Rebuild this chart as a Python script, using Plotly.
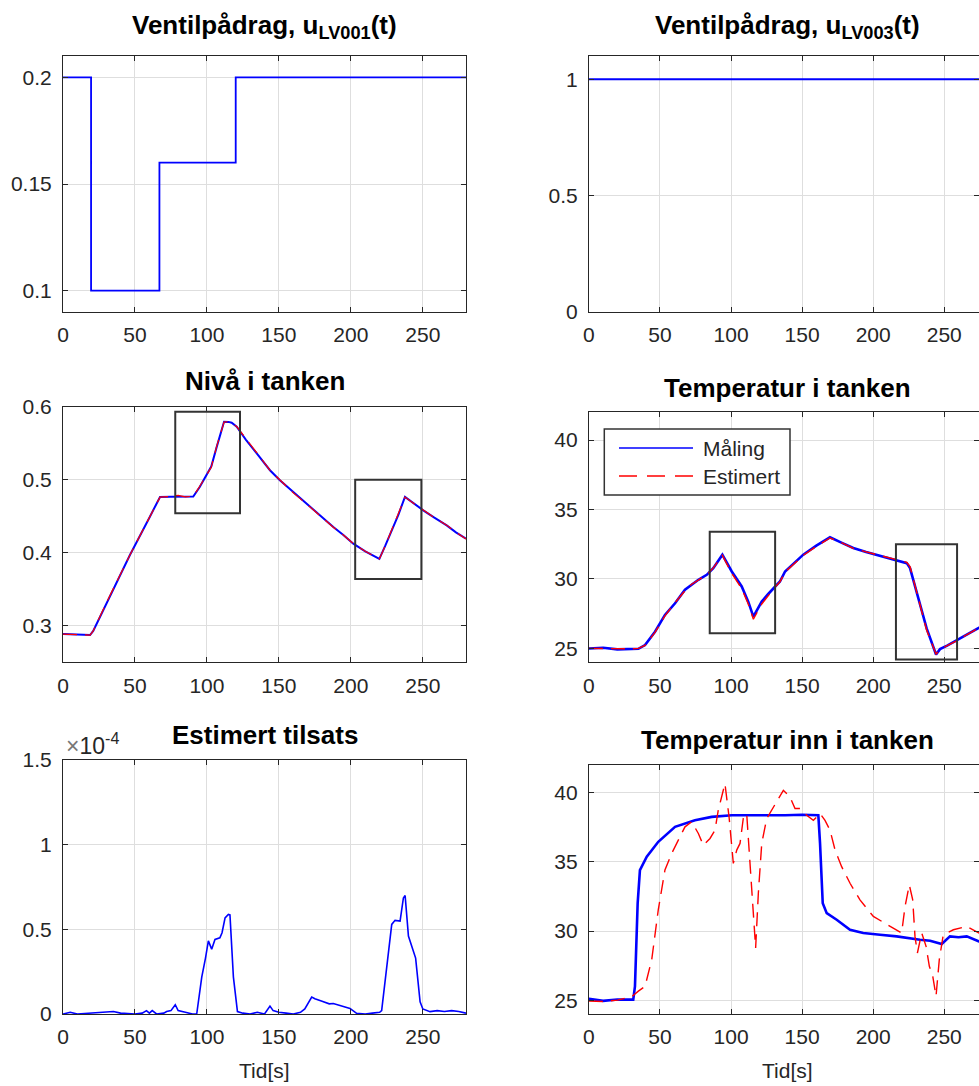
import plotly.graph_objects as go

# ---------------- data ----------------
# Valve input LV001 (step sequence)
t_u1 = [0, 19.5, 67, 120, 280]
u_lv001 = [0.2, 0.1, 0.16, 0.2, 0.2]

# Valve input LV003 (constant)
t_u3 = [0, 280]
u_lv003 = [1, 1]

# Tank level: measurement and estimate
t_lvl = [0, 10, 18.8, 21, 30, 46.5, 60, 67.4, 75, 80, 85, 90.5, 95, 99.8, 103, 106.8,
         110, 111.9, 115, 117.2, 120.7, 127, 134.6, 143.8, 150.7, 160, 171.6, 180,
         187.8, 195, 201.7, 210, 219.8, 224, 228.4, 233, 237.6, 244, 250.3, 258,
         266.6, 273, 280]
lvl_meas = [0.2887, 0.2880, 0.2874, 0.293, 0.330, 0.397, 0.448, 0.4764, 0.4768, 0.4770,
            0.4772, 0.4770, 0.490, 0.506, 0.518, 0.545, 0.565, 0.5794, 0.5792, 0.578,
            0.5725, 0.555, 0.536, 0.513, 0.4993, 0.483, 0.4626, 0.449, 0.4352, 0.424,
            0.4124, 0.402, 0.3917, 0.410, 0.4306, 0.452, 0.4764, 0.467, 0.4581, 0.448,
            0.4375, 0.428, 0.4192]
lvl_est = [0.2885, 0.2882, 0.2872, 0.293, 0.331, 0.397, 0.449, 0.4762, 0.4772, 0.4785,
           0.4765, 0.4775, 0.491, 0.507, 0.517, 0.546, 0.566, 0.5790, 0.5795, 0.5775,
           0.5728, 0.556, 0.537, 0.513, 0.4995, 0.482, 0.4628, 0.448, 0.4350, 0.424,
           0.4126, 0.402, 0.3915, 0.410, 0.4310, 0.452, 0.4762, 0.467, 0.4585, 0.448,
           0.4378, 0.428, 0.4190]

# Tank temperature: measurement and estimate
t_temp = [0, 10, 20, 30, 34.8, 39.5, 46.5, 53.5, 60.6, 67.6, 72, 77, 82.9, 87.5, 93.9,
          100.5, 107.5, 112.1, 115.7, 121.6, 126, 130.9, 134.4, 138, 145, 150.8, 160,
          169.6, 178, 186, 195, 202.5, 212, 223.6, 225.9, 230.6, 237.6, 244.2, 247,
          252, 258.7, 266, 274.4, 280]
temp_meas = [24.99, 25.05, 24.93, 24.95, 24.97, 25.24, 26.2, 27.41, 28.25, 29.22, 29.55,
             29.94, 30.3, 30.78, 31.75, 30.54, 29.46, 28.37, 27.29, 28.37, 28.9, 29.46,
             29.82, 30.54, 31.2, 31.75, 32.4, 33.0, 32.6, 32.23, 31.95, 31.75, 31.5,
             31.14, 30.78, 28.97, 26.44, 24.56, 24.95, 25.2, 25.6, 26.0, 26.49, 26.8]
temp_est = [25.0, 24.98, 24.95, 24.97, 25.0, 25.22, 26.15, 27.35, 28.3, 29.15, 29.6,
            29.9, 30.3, 30.8, 31.7, 30.4, 29.3, 28.2, 27.1, 28.2, 28.8, 29.4,
            29.8, 30.5, 31.15, 31.7, 32.35, 32.95, 32.6, 32.2, 31.95, 31.75, 31.5,
            31.2, 30.9, 29.0, 26.3, 24.6, 24.9, 25.2, 25.55, 26.0, 26.45, 26.8]

# Estimated additive
t_add = [0, 5, 10, 20, 30, 35, 40, 50, 55, 58, 60, 62, 65, 70, 72, 75, 78, 80, 85, 90,
         92.9, 96.4, 99, 101, 103.3, 105.6, 109, 110.5, 112.6, 114.9, 116, 118.4, 121.2,
         125, 130, 135, 140, 143.8, 146, 150, 155, 160, 165, 168, 172.8, 175, 180, 185,
         187.8, 192, 195, 199.4, 204, 210, 215, 220, 221.4, 225, 228.4, 230.7, 234.2,
         236.5, 237.7, 240, 243.5, 245, 248.1, 250, 255, 260, 265, 270, 275, 280]
add_est = [0, 0.01e-4, 0, 0.005e-4, 0.01e-4, 0.015e-4, 0.005e-4, 0, 0.005e-4, 0.02e-4,
           0.005e-4, 0.02e-4, 0, 0.005e-4, 0.015e-4, 0.02e-4, 0.055e-4, 0.02e-4, 0.01e-4, 0,
           0, 0.218e-4, 0.33e-4, 0.432e-4, 0.383e-4, 0.44e-4, 0.45e-4, 0.48e-4, 0.568e-4,
           0.588e-4, 0.585e-4, 0.218e-4, 0.014e-4, 0.005e-4, 0, 0.01e-4, 0, 0.047e-4,
           0.02e-4, 0.01e-4, 0.005e-4, 0, 0.01e-4, 0.03e-4, 0.1e-4, 0.09e-4, 0.075e-4,
           0.06e-4, 0.062e-4, 0.05e-4, 0.045e-4, 0.033e-4, 0.004e-4, 0, 0.005e-4, 0.01e-4,
           0.02e-4, 0.3e-4, 0.529e-4, 0.553e-4, 0.549e-4, 0.685e-4, 0.70e-4, 0.46e-4,
           0.374e-4, 0.33e-4, 0.072e-4, 0.03e-4, 0.014e-4, 0.02e-4, 0.015e-4, 0.02e-4,
           0.015e-4, 0.005e-4]

# Inlet temperature: measurement
t_tin_meas = [0, 10, 20, 31.2, 32.4, 34.3, 35.9, 40.7, 48.8, 60.6, 74.6, 86.4, 100.5,
              120, 138, 150, 161.4, 162.6, 164.5, 167.3, 174.3, 183.7, 193, 204.8, 216.5,
              232.9, 240, 248.2, 254, 260, 265.8, 274.4, 280]
tin_meas = [25.1, 24.95, 25.05, 25.04, 26.0, 32.0, 34.4, 35.37, 36.45, 37.53, 38.0,
            38.25, 38.37, 38.35, 38.37, 38.4, 38.37, 36.33, 32.01, 31.29, 30.81, 30.09,
            29.86, 29.73, 29.61, 29.37, 29.3, 29.06, 29.61, 29.55, 29.61, 29.25, 29.2]

# Inlet temperature: estimate
t_tin_est = [0, 10, 20, 30.1, 34.8, 39.5, 44.2, 48.8, 53.5, 58.2, 62.9, 67.6, 72.3, 77.0,
             80.5, 85.2, 88.7, 91.0, 95.7, 98.6, 101.6, 104.0, 106.3, 108.6, 111.0, 113.3,
             115.7, 117.3, 119.2, 121.6, 125.1, 130.9, 136.8, 141.5, 145.0, 148.5, 153.2,
             157.9, 162.6, 166.1, 169.6, 173.2, 177.8, 183.7, 190.7, 200.1, 211.8, 220.0,
             222.4, 225.4, 227.8, 229.4, 231.1, 234.1, 237.2, 239.5, 241.9, 244.2, 246.5,
             249.3, 256.4, 265.8, 274.4, 280]
tin_est = [24.94, 24.9, 25.0, 25.25, 25.65, 26.0, 27.93, 31.53, 34.41, 35.6, 36.57, 37.53,
           37.89, 37.05, 36.2, 36.69, 37.29, 38.73, 40.65, 38.25, 34.89, 35.85, 36.33,
           38.13, 38.49, 34.65, 30.58, 28.78, 32.73, 36.33, 38.13, 39.09, 40.17, 39.68,
           38.85, 38.85, 38.37, 38.0, 38.49, 38.0, 37.29, 35.85, 34.65, 33.45, 32.25,
           31.05, 30.33, 29.86, 31.77, 33.33, 32.25, 29.61, 28.41, 29.86, 28.89, 27.45,
           26.73, 25.29, 27.93, 29.73, 30.09, 30.33, 29.86, 29.9]

# Highlight boxes (time span, value span)
level_boxes = [((78, 123), (0.454, 0.593)), ((203, 249), (0.364, 0.50))]
temp_boxes = [((85, 131), (26.1, 33.4)), ((216, 259), (24.2, 32.5))]

x_ticks = [0, 50, 100, 150, 200, 250]
legend_names = ["Måling", "Estimert"]

# ---------------- layout helpers ----------------
W, H = 979, 1086
FONT = "Liberation Sans, Arial, Helvetica, sans-serif"
AX_COLOR = "#262626"
GRID = "#dedede"
BLUE = "#0000ff"
RED = "#ff0000"
DASH = "14px,8px"
TICK_SIZE = 21


def fx(p):
    return p / W


def fy(p):
    return 1 - p / H


left_dom = [fx(63), fx(466)]
right_dom = [fx(588.9), 1.0]
right_xmax = (W - 588.9) / 1.4215

panels = {
    1: dict(xd=left_dom, yd=[fy(312), fy(56)], xr=[0, 280], yr=[0.09, 0.21],
            tv=[0.1, 0.15, 0.2], tt=["0.1", "0.15", "0.2"]),
    2: dict(xd=right_dom, yd=[fy(312), fy(56)], xr=[0, right_xmax], yr=[0, 1.1],
            tv=[0, 0.5, 1], tt=["0", "0.5", "1"]),
    3: dict(xd=left_dom, yd=[fy(662.3), fy(406.7)], xr=[0, 280], yr=[0.25, 0.6],
            tv=[0.3, 0.4, 0.5, 0.6], tt=["0.3", "0.4", "0.5", "0.6"]),
    4: dict(xd=right_dom, yd=[fy(662.3), fy(412.3)], xr=[0, right_xmax], yr=[24, 42],
            tv=[25, 30, 35, 40], tt=["25", "30", "35", "40"]),
    5: dict(xd=left_dom, yd=[fy(1014), fy(760)], xr=[0, 280], yr=[0, 1.5e-4],
            tv=[0, 0.5e-4, 1e-4, 1.5e-4], tt=["0", "0.5", "1", "1.5"]),
    6: dict(xd=right_dom, yd=[fy(1014), fy(765)], xr=[0, right_xmax], yr=[24, 42],
            tv=[25, 30, 35, 40], tt=["25", "30", "35", "40"]),
}

fig = go.Figure()


def line(i, x, y, color, dash=None, width=1.6, shape="linear"):
    suffix = "" if i == 1 else str(i)
    fig.add_trace(go.Scatter(
        x=x, y=y, mode="lines", xaxis="x" + suffix, yaxis="y" + suffix,
        line=dict(color=color, width=width, dash=dash, shape=shape),
        showlegend=False, hoverinfo="skip"))


line(1, t_u1, u_lv001, BLUE, width=1.8, shape="hv")
line(2, t_u3, u_lv003, BLUE, width=1.8)
line(3, t_lvl, lvl_meas, BLUE, width=2)
line(3, t_lvl, lvl_est, RED, dash=DASH, width=1.2)
line(4, t_temp, temp_meas, BLUE, width=2.6)
line(4, t_temp, temp_est, RED, dash=DASH, width=1.4)
line(5, t_add, add_est, BLUE, width=1.6)
line(6, t_tin_meas, tin_meas, BLUE, width=2.6)
line(6, t_tin_est, tin_est, RED, dash=DASH, width=1.4)

layout = dict(
    template="none",
    width=W, height=H, margin=dict(l=0, r=0, t=0, b=0, pad=0, autoexpand=False),
    paper_bgcolor="white", plot_bgcolor="white",
    font=dict(family=FONT, size=TICK_SIZE, color=AX_COLOR),
    showlegend=False,
)

for i, p in panels.items():
    s = "" if i == 1 else str(i)
    layout["xaxis" + s] = dict(
        domain=p["xd"], range=p["xr"], anchor="y" + s, automargin=False,
        tickvals=x_ticks, ticktext=[str(v) for v in x_ticks],
        showgrid=True, gridcolor=GRID, gridwidth=1, zeroline=False,
        showline=True, linecolor=AX_COLOR, linewidth=1, mirror="ticks",
        ticks="inside", ticklen=5, tickcolor=AX_COLOR, ticklabelstandoff=4,
        tickfont=dict(size=TICK_SIZE, color=AX_COLOR, family=FONT),
    )
    layout["yaxis" + s] = dict(
        domain=p["yd"], range=p["yr"], anchor="x" + s, automargin=False,
        tickvals=p["tv"], ticktext=p["tt"],
        showgrid=True, gridcolor=GRID, gridwidth=1, zeroline=False,
        showline=True, linecolor=AX_COLOR, linewidth=1, mirror="ticks",
        ticks="inside", ticklen=5, tickcolor=AX_COLOR, ticklabelstandoff=6,
        tickfont=dict(size=TICK_SIZE, color=AX_COLOR, family=FONT),
    )

fig.update_layout(**layout)

# Highlight rectangles
shapes = []
for boxes, s in ((level_boxes, "3"), (temp_boxes, "4")):
    for (x0, x1), (y0, y1) in boxes:
        shapes.append(dict(type="rect", xref="x" + s, yref="y" + s,
                           x0=x0, x1=x1, y0=y0, y1=y1,
                           line=dict(color="#333333", width=2)))

# Legend for the tank temperature panel
shapes.append(dict(type="rect", xref="paper", yref="paper",
                   x0=fx(604.3), x1=fx(790), y0=fy(495), y1=fy(429),
                   line=dict(color="#333333", width=1.5), fillcolor="white"))
shapes.append(dict(type="line", xref="paper", yref="paper",
                   x0=fx(619), x1=fx(693), y0=fy(448), y1=fy(448),
                   line=dict(color=BLUE, width=1.6)))
shapes.append(dict(type="line", xref="paper", yref="paper",
                   x0=fx(619), x1=fx(693), y0=fy(476), y1=fy(476),
                   line=dict(color=RED, width=1.4, dash="18px,10px")))
fig.update_layout(shapes=shapes)

ann = []


def text(x, y, s, size=20, color=AX_COLOR, xanchor="center"):
    ann.append(dict(x=fx(x), y=fy(y), xref="paper", yref="paper", text=s,
                    showarrow=False, xanchor=xanchor, yanchor="middle",
                    borderpad=0, font=dict(family=FONT, size=size, color=color)))


TITLE = 26
left_c = (63 + 466) / 2
right_c = 588.9 + 280 * 1.4215 / 2
text(left_c, 26, "<b>Ventilpådrag, u<sub>LV001</sub>(t)</b>", TITLE, color="#000000")
text(right_c, 26, "<b>Ventilpådrag, u<sub>LV003</sub>(t)</b>", TITLE, color="#000000")
text(left_c, 381, "<b>Nivå i tanken</b>", TITLE, color="#000000")
text(right_c, 388, "<b>Temperatur i tanken</b>", TITLE, color="#000000")
text(left_c, 735, "<b>Estimert tilsats</b>", TITLE, color="#000000")
text(right_c, 740, "<b>Temperatur inn i tanken</b>", TITLE, color="#000000")
text(left_c, 1070, "Tid[s]", TICK_SIZE)
text(right_c, 1070, "Tid[s]", TICK_SIZE)
text(65, 744, "<span style='color:#777'>×</span>10<sup>-4</sup>", 23, xanchor="left")
text(701.7, 448, legend_names[0], 21, xanchor="left")
text(701.7, 476, legend_names[1], 21, xanchor="left")
fig.update_layout(annotations=ann)

fig.write_html("out.html")
